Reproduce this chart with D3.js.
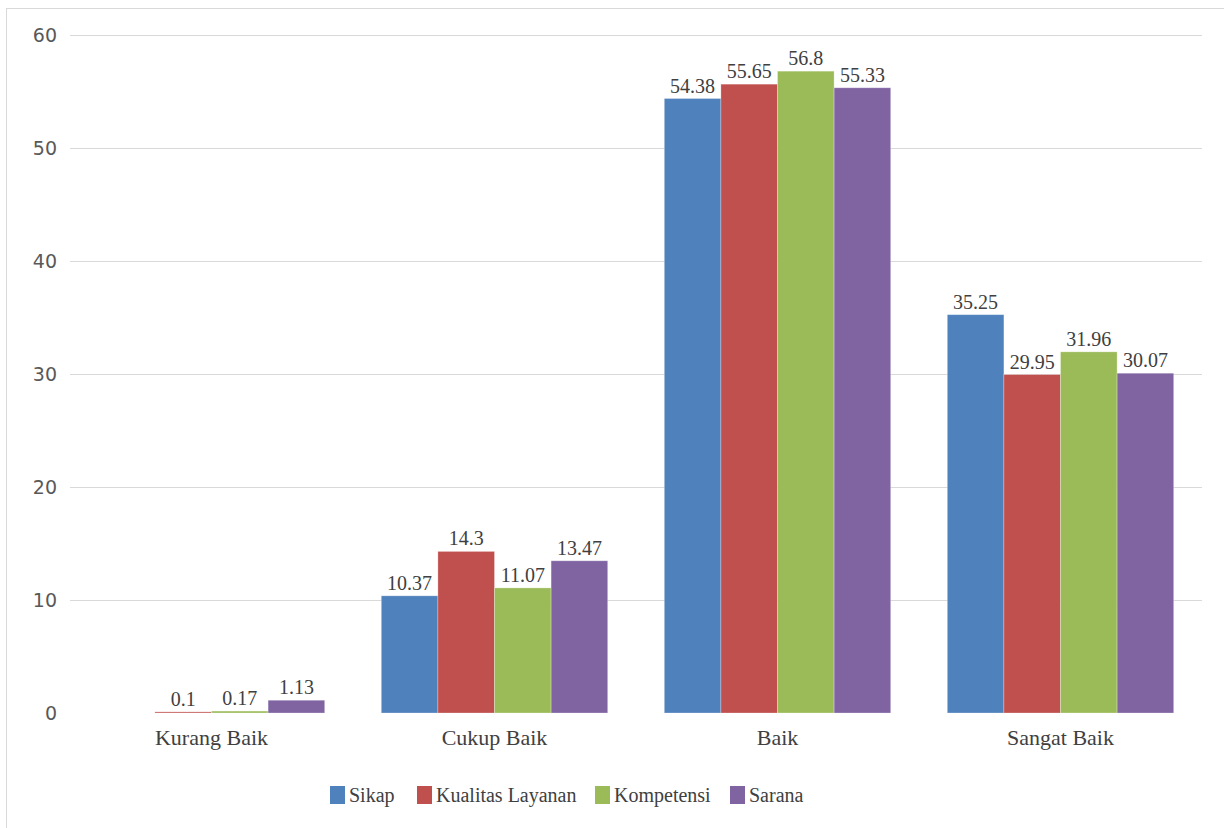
<!DOCTYPE html>
<html>
<head>
<meta charset="utf-8">
<script src="https://cdn.jsdelivr.net/npm/d3@7"></script>
<style>
  html, body { margin: 0; padding: 0; background: #fff; }
  svg { display: block; }
</style>
</head>
<body>
<svg id="chart" width="1224" height="828"></svg>
<script>
// Chart data
const categories = ['Kurang Baik', 'Cukup Baik', 'Baik', 'Sangat Baik'];
const seriesNames = ['Sikap', 'Kualitas Layanan', 'Kompetensi', 'Sarana'];
const seriesColors = ['#4f81bd', '#c0504d', '#9bbb59', '#8064a2'];
const sikap = [null, 10.37, 54.38, 35.25];
const kualitasLayanan = [0.1, 14.3, 55.65, 29.95];
const kompetensi = [0.17, 11.07, 56.8, 31.96];
const sarana = [1.13, 13.47, 55.33, 30.07];
const yTicks = [0, 10, 20, 30, 40, 50, 60];

const seriesValues = [sikap, kualitasLayanan, kompetensi, sarana];

const W = 1224, H = 828;
const plot = { left: 70, right: 1202, top: 35, bottom: 713 };
const SERIF = "'Liberation Serif', 'Times New Roman', Times, 'DejaVu Serif', serif";
const TEXT_COLOR = '#404040';

const svg = d3.select('#chart');

// Outer chart frame
svg.append('rect')
  .attr('x', 6.5).attr('y', 8.5)
  .attr('width', W).attr('height', H)
  .attr('fill', '#fff')
  .attr('stroke', '#d9d9d9')
  .attr('stroke-width', 1);

const x0 = d3.scaleBand()
  .domain(categories)
  .range([plot.left, plot.right])
  .paddingInner(0.2)
  .paddingOuter(0.1);

const x1 = d3.scaleBand()
  .domain(seriesNames)
  .range([0, x0.bandwidth()]);

const y = d3.scaleLinear()
  .domain([0, 60])
  .range([plot.bottom, plot.top]);

const color = d3.scaleOrdinal().domain(seriesNames).range(seriesColors);

// Gridlines (no line at zero)
svg.append('g')
  .selectAll('line')
  .data(yTicks.filter(t => t > 0))
  .join('line')
  .attr('x1', plot.left).attr('x2', plot.right)
  .attr('y1', d => Math.round(y(d)) + 0.5)
  .attr('y2', d => Math.round(y(d)) + 0.5)
  .attr('stroke', '#d9d9d9')
  .attr('stroke-width', 1);

// Y axis labels
const yAxis = d3.axisLeft(y).tickValues(yTicks).tickSize(0).tickPadding(13);
const yG = svg.append('g')
  .attr('transform', `translate(${plot.left},0)`)
  .call(yAxis);
yG.select('.domain').remove();
yG.selectAll('text')
  .style('font-family', "'DejaVu Sans', sans-serif")
  .style('font-size', '19px')
  .attr('fill', '#595959');

// Bars
const rows = categories.map((c, i) => ({
  category: c,
  values: seriesNames.map((s, j) => ({ series: s, value: seriesValues[j][i] }))
}));

const groups = svg.append('g')
  .selectAll('g')
  .data(rows)
  .join('g')
  .attr('transform', d => `translate(${x0(d.category)},0)`);

groups.selectAll('rect')
  .data(d => d.values.filter(v => v.value !== null))
  .join('rect')
  .attr('x', d => x1(d.series))
  .attr('y', d => y(d.value))
  .attr('width', x1.bandwidth())
  .attr('height', d => y(0) - y(d.value))
  .attr('fill', d => color(d.series))
  .attr('stroke', '#fff')
  .attr('stroke-opacity', 0.35)
  .attr('stroke-width', 0.8);

// Value labels
groups.selectAll('text')
  .data(d => d.values.filter(v => v.value !== null))
  .join('text')
  .attr('x', d => x1(d.series) + x1.bandwidth() / 2)
  .attr('y', d => y(d.value) - 6)
  .attr('text-anchor', 'middle')
  .style('font-family', SERIF)
  .style('font-size', '20px')
  .attr('fill', TEXT_COLOR)
  .text(d => d.value);

// Category labels
const xAxis = d3.axisBottom(x0).tickSize(0).tickPadding(16);
const xG = svg.append('g')
  .attr('transform', `translate(0,${plot.bottom})`)
  .call(xAxis);
xG.select('.domain').remove();
xG.selectAll('text')
  .style('font-family', SERIF)
  .style('font-size', '22px')
  .attr('fill', TEXT_COLOR);

// Legend
const legendItems = [
  { name: seriesNames[0], x: 330 },
  { name: seriesNames[1], x: 417 },
  { name: seriesNames[2], x: 595 },
  { name: seriesNames[3], x: 730 }
];
const legend = svg.append('g').attr('transform', 'translate(0,795)');
const li = legend.selectAll('g')
  .data(legendItems)
  .join('g')
  .attr('transform', d => `translate(${d.x},0)`);
li.append('rect')
  .attr('x', 0).attr('y', -9)
  .attr('width', 15).attr('height', 18)
  .attr('fill', d => color(d.name));
li.append('text')
  .attr('x', 19).attr('y', 7)
  .style('font-family', SERIF)
  .style('font-size', '20px')
  .attr('fill', TEXT_COLOR)
  .text(d => d.name);
</script>
</body>
</html>
